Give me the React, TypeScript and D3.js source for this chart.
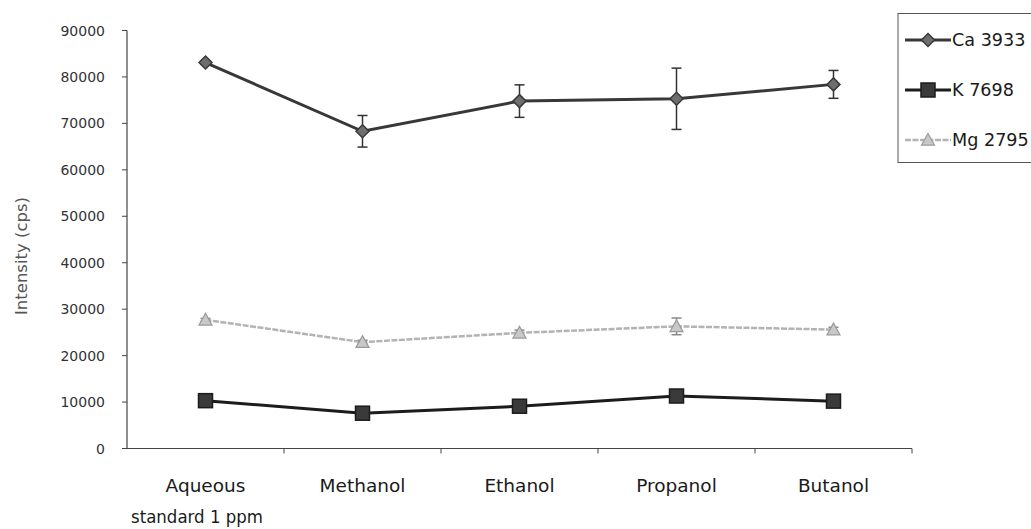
import React from "react";
import * as d3 from "d3";

const categories = ["Aqueous", "Methanol", "Ethanol", "Propanol", "Butanol"];
const subLabel = "standard 1 ppm";
const caValues = [83100, 68300, 74800, 75300, 78400];
const caErrors = [400, 3400, 3500, 6600, 3000];
const kValues = [10300, 7600, 9100, 11300, 10200];
const kErrors = [300, 300, 300, 400, 300];
const mgValues = [27700, 22900, 24900, 26300, 25600];
const mgErrors = [300, 400, 600, 1800, 500];
const yTicks = [0, 10000, 20000, 30000, 40000, 50000, 60000, 70000, 80000, 90000];
const seriesNames = ["Ca 3933", "K 7698", "Mg 2795"];

const W = 1031, H = 529;
const left = 127, right = 912, top = 30.5, bottom = 448.5;

export default function App() {
  const x = d3.scaleBand().domain(categories).range([left, right]);
  const y = d3.scaleLinear().domain([0, 90000]).range([bottom, top]);
  const cx = (c: string) => (x(c) as number) + x.bandwidth() / 2;
  const line = d3.line<[number, number]>().x(d => d[0]).y(d => d[1]);
  const font = "'DejaVu Sans', Verdana, sans-serif";

  const series = [
    { name: seriesNames[0], vals: caValues, errs: caErrors, stroke: "#383838", width: 3, fill: "#6e6e6e", marker: "diamond" },
    { name: seriesNames[1], vals: kValues, errs: kErrors, stroke: "#1c1c1c", width: 3, fill: "#3a3a3a", marker: "square" },
    { name: seriesNames[2], vals: mgValues, errs: mgErrors, stroke: "#b3b3b3", width: 2.5, fill: "#c8c8c8", marker: "triangle" },
  ];

  const marker = (type: string, px: number, py: number, fill: string, stroke: string, key: string) => {
    if (type === "diamond") {
      const s = 6.5;
      return <path key={key} d={`M${px},${py - s}L${px + s},${py}L${px},${py + s}L${px - s},${py}Z`} fill={fill} stroke={stroke} strokeWidth={1.5} />;
    }
    if (type === "square") {
      const s = 7;
      return <rect key={key} x={px - s} y={py - s} width={2 * s} height={2 * s} fill={fill} stroke={stroke} strokeWidth={1.5} />;
    }
    const s = 6.5;
    return <path key={key} d={`M${px},${py - s}L${px + s},${py + s * 0.8}L${px - s},${py + s * 0.8}Z`} fill={fill} stroke="#9a9a9a" strokeWidth={1.2} />;
  };

  return (
    <svg width={W} height={H} style={{ position: "absolute", left: 0, top: 0, background: "#fff" }}>
      {/* axes */}
      <line x1={left} x2={left} y1={top} y2={bottom} stroke="#444" strokeWidth={1.2} />
      <line x1={left} x2={right} y1={bottom} y2={bottom} stroke="#444" strokeWidth={1.2} />
      {yTicks.map(t => (
        <g key={t}>
          <line x1={left - 5} x2={left} y1={y(t)} y2={y(t)} stroke="#444" strokeWidth={1} />
          <text x={105} y={y(t)} dy="0.36em" textAnchor="end" fontSize={14} fill="#333" fontFamily={font}>{t}</text>
        </g>
      ))}
      {categories.map(c => (
        <line key={c} x1={(x(c) as number) + x.bandwidth()} x2={(x(c) as number) + x.bandwidth()} y1={bottom} y2={bottom + 5} stroke="#444" strokeWidth={1} />
      ))}
      {categories.map(c => (
        <text key={c} x={cx(c)} y={492} textAnchor="middle" fontSize={18.5} fill="#1a1a1a" fontFamily={font}>{c}</text>
      ))}
      <text x={131} y={523} textLength={132} lengthAdjust="spacingAndGlyphs" fontSize={18} fill="#1a1a1a" fontFamily={font}>{subLabel}</text>
      <text transform={`translate(27,${256}) rotate(-90)`} textAnchor="middle" fontSize={16.5} fill="#555" fontFamily={font}>Intensity (cps)</text>

      {/* series */}
      {series.map(s => {
        const pts = categories.map((c, i) => [cx(c), y(s.vals[i])] as [number, number]);
        return (
          <g key={s.name}>
            <path d={line(pts) as string} fill="none" stroke={s.stroke} strokeWidth={s.width} strokeDasharray={s.marker === "triangle" ? "6,1.5" : undefined} />
            {categories.map((c, i) => {
              const px = cx(c);
              const y1 = y(s.vals[i] + s.errs[i]);
              const y2 = y(s.vals[i] - s.errs[i]);
              const ec = s.marker === "triangle" ? "#888" : "#333";
              return (
                <g key={c}>
                  <line x1={px} x2={px} y1={y1} y2={y2} stroke={ec} strokeWidth={1.5} />
                  <line x1={px - 5} x2={px + 5} y1={y1} y2={y1} stroke={ec} strokeWidth={1.5} />
                  <line x1={px - 5} x2={px + 5} y1={y2} y2={y2} stroke={ec} strokeWidth={1.5} />
                </g>
              );
            })}
            {pts.map((p, i) => marker(s.marker, p[0], p[1], s.fill, s.stroke, `${s.name}-${i}`))}
          </g>
        );
      })}

      {/* legend */}
      <rect x={898} y={13.5} width={150} height={149} fill="#fff" stroke="#555" strokeWidth={1} />
      {series.map((s, i) => {
        const ly = 40 + i * 50;
        return (
          <g key={s.name}>
            <line x1={905} x2={951} y1={ly} y2={ly} stroke={s.stroke} strokeWidth={s.width} strokeDasharray={s.marker === "triangle" ? "6,1.5" : undefined} />
            {marker(s.marker, 928, ly, s.fill, s.stroke, `leg-${i}`)}
            <text x={952} y={ly} dy="0.36em" fontSize={17.6} fill="#1a1a1a" fontFamily={font}>{s.name}</text>
          </g>
        );
      })}
    </svg>
  );
}
